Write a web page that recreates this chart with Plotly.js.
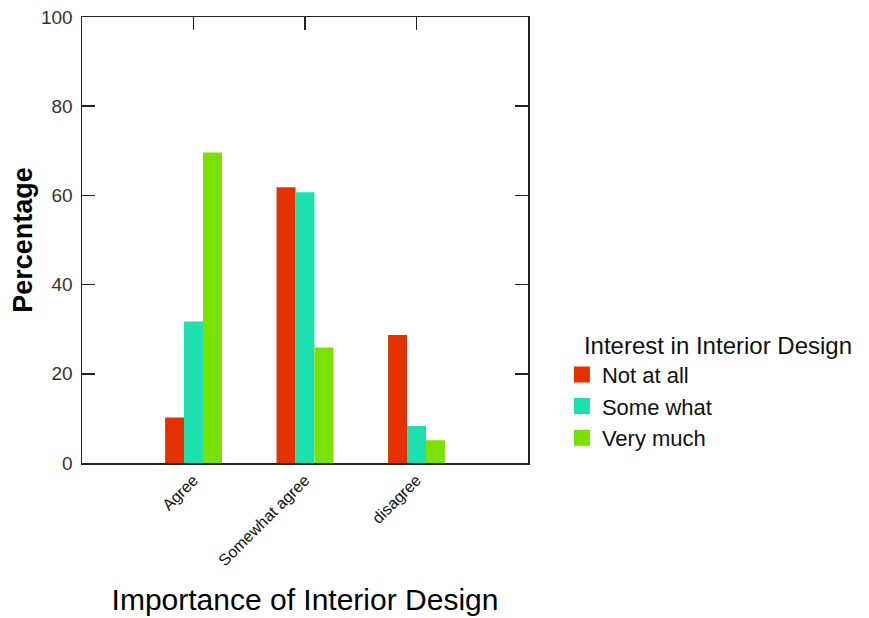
<!DOCTYPE html>
<html>
<head>
<meta charset="utf-8">
<script src="https://cdn.plot.ly/plotly-3.0.1.min.js"></script>
<style>html,body{margin:0;padding:0;background:#fff;}#chart{width:869px;height:618px;}</style>
</head>
<body>
<div id="chart"></div>
<script>
const categories = ['Agree', 'Somewhat agree', 'disagree'];
const seriesNames = ['Not at all', 'Some what', 'Very much'];
const notAtAll = [10.2, 61.8, 28.7];
const someWhat = [31.7, 60.7, 8.3];
const veryMuch = [69.6, 25.9, 5.1];
const yTicks = [0, 20, 40, 60, 80, 100];
const seriesColors = ['#E33200', '#1DE0AE', '#7CE000'];
const seriesValues = [notAtAll, someWhat, veryMuch];
const legendTitle = 'Interest in Interior Design';

const FONT = 'Liberation Sans, Arial, sans-serif';

const traces = [];
seriesValues.forEach((vals, i) => {
  traces.push({
    type: 'bar', x: categories, y: vals, name: seriesNames[i],
    marker: {color: seriesColors[i], line: {width: 0}},
    showlegend: false, hoverinfo: 'x+y+name'
  });
});
// legend entries (larger swatches), placed on the top helper axis
seriesValues.forEach((vals, i) => {
  traces.push({
    type: 'scatter', mode: 'markers', x: [null], y: [null], xaxis: 'x2',
    name: seriesNames[i], showlegend: true, hoverinfo: 'skip',
    marker: {symbol: 'square', size: 20, color: seriesColors[i]}
  });
});

const layout = {
  width: 869, height: 618,
  margin: {l: 82, r: 341, t: 17, b: 155},
  paper_bgcolor: '#fff', plot_bgcolor: '#fff',
  font: {family: FONT, color: '#000'},
  barmode: 'group', bargap: 0.49, bargroupgap: 0,
  showlegend: true,
  xaxis: {
    type: 'category', categoryorder: 'array', categoryarray: categories,
    range: [-1, categories.length],
    showline: true, linecolor: '#222', linewidth: 1.5, mirror: true,
    ticks: '', showgrid: false, zeroline: false,
    tickangle: -45, tickfont: {size: 16, color: '#111', family: FONT},
    title: {text: 'Importance of Interior Design', font: {size: 30, color: '#000', family: FONT}, standoff: 21}
  },
  xaxis2: {
    overlaying: 'x', side: 'top', anchor: 'y',
    range: [-1, categories.length],
    tickvals: categories.map((c, i) => i), ticks: 'inside', ticklen: 13, tickwidth: 1.5, tickcolor: '#222',
    showticklabels: false, showgrid: false, zeroline: false, showline: false
  },
  yaxis: {
    range: [0, 100], tickvals: yTicks,
    showline: true, linecolor: '#222', linewidth: 1.5, mirror: 'ticks',
    ticks: 'inside', ticklen: 13, tickwidth: 1.5, tickcolor: '#222',
    showgrid: false, zeroline: false, ticklabelstandoff: 4,
    tickfont: {size: 19, color: '#333', family: FONT},
    title: {text: '<b>Percentage</b>', font: {size: 27, color: '#000', family: FONT}, standoff: 0}
  },
  legend: {
    x: 1.076, xanchor: 'left', y: 0.315, yanchor: 'top',
    bgcolor: 'rgba(0,0,0,0)', borderwidth: 0,
    font: {size: 22, color: '#111', family: FONT},
    title: {text: '\u00a0\u00a0\u00a0' + legendTitle, font: {size: 24, color: '#111', family: FONT}},
    tracegroupgap: 0, itemwidth: 30
  }
};

Plotly.newPlot('chart', traces, layout, {displayModeBar: false, staticPlot: true});
</script>
</body>
</html>
